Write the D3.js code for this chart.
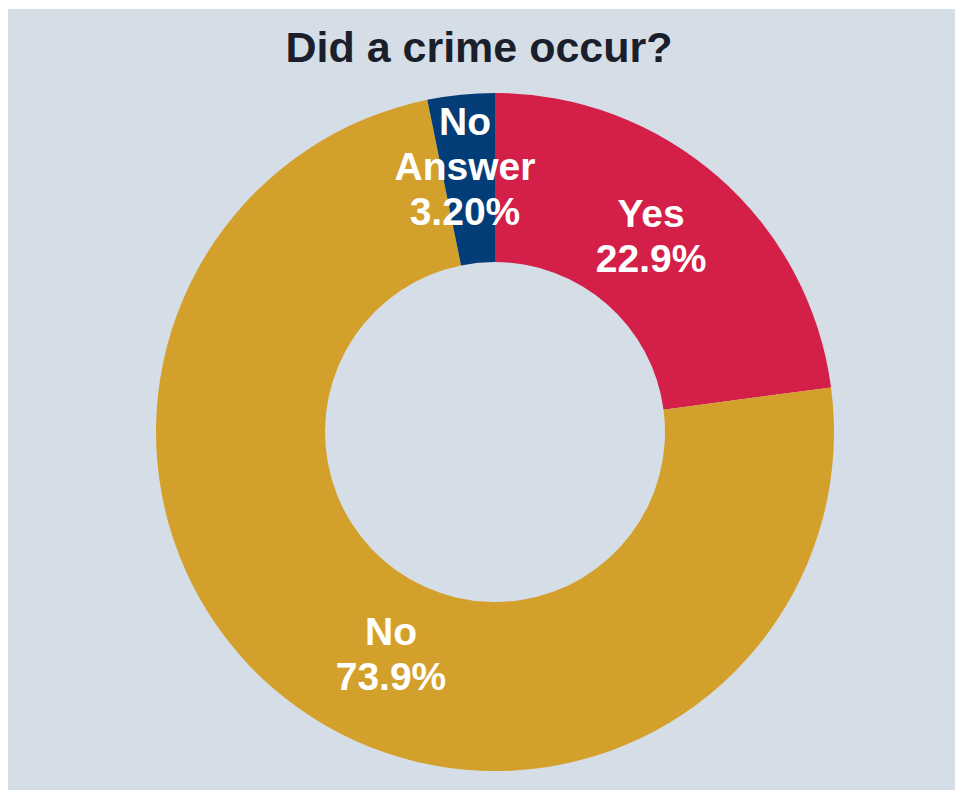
<!DOCTYPE html>
<html>
<head>
<meta charset="utf-8">
<script src="https://cdn.jsdelivr.net/npm/d3@7/dist/d3.min.js"></script>
<style>
  html, body { margin: 0; padding: 0; background: #ffffff; }
  svg { display: block; }
</style>
</head>
<body>
<svg id="chart" width="955" height="790"></svg>
<script>
// Survey answers, in drawing order clockwise from twelve o'clock
const categories = ["Yes", "No", "No Answer"];
const shares = [22.9, 73.9, 3.2];
const valueLabels = ["22.9%", "73.9%", "3.20%"];
const labelLines = [["Yes"], ["No"], ["No", "Answer"]];
const sliceColors = ["#d41f48", "#d4a02c", "#033d78"];
const chartTitle = "Did a crime occur?";

const svg = d3.select("#chart");
const W = 955, H = 790;

// panel
svg.append("rect")
  .attr("x", 8).attr("y", 9)
  .attr("width", W - 8).attr("height", H - 9)
  .attr("fill", "#d5dde6");

svg.append("text")
  .attr("x", 479).attr("y", 62)
  .attr("text-anchor", "middle")
  .attr("font-family", "'Liberation Sans', Arial, sans-serif")
  .attr("font-weight", "bold")
  .attr("font-size", 43)
  .attr("fill", "#1a1f2b")
  .text(chartTitle);

const cx = 495, cy = 432;
const outerR = 339, innerR = 170;

const data = categories.map((c, i) => ({
  name: c, value: shares[i], color: sliceColors[i],
  lines: labelLines[i].concat([valueLabels[i]])
}));

const pie = d3.pie().value(d => d.value).sort(null);
const arc = d3.arc().innerRadius(innerR).outerRadius(outerR);
const labelArc = d3.arc().innerRadius(innerR).outerRadius(outerR - 6);

const g = svg.append("g").attr("transform", `translate(${cx},${cy})`);
const arcs = pie(data);

g.selectAll("path.slice")
  .data(arcs)
  .join("path")
  .attr("class", "slice")
  .attr("d", arc)
  .attr("fill", d => d.data.color);

// label placement: nudges applied on top of the slice centroid
const nudge = { "Yes": [-9.6, -6.3], "No": [41.9, 17.6], "No Answer": [-4.8, -14.8] };
const lineH = 45;

g.selectAll("text.lbl")
  .data(arcs)
  .join("text")
  .attr("class", "lbl")
  .attr("text-anchor", "middle")
  .attr("font-family", "'Liberation Sans', Arial, sans-serif")
  .attr("font-weight", "bold")
  .attr("font-size", 39)
  .attr("fill", "#ffffff")
  .each(function (d) {
    const [x, y] = labelArc.centroid(d);
    const n = nudge[d.data.name] || [0, 0];
    const lx = x + n[0], ly = y + n[1];
    const lines = d.data.lines;
    const top = ly - (lines.length - 1) * lineH / 2 + 13;
    d3.select(this).selectAll("tspan")
      .data(lines)
      .join("tspan")
      .attr("x", lx)
      .attr("y", (t, i) => top + i * lineH)
      .text(t => t);
  });
</script>
</body>
</html>
